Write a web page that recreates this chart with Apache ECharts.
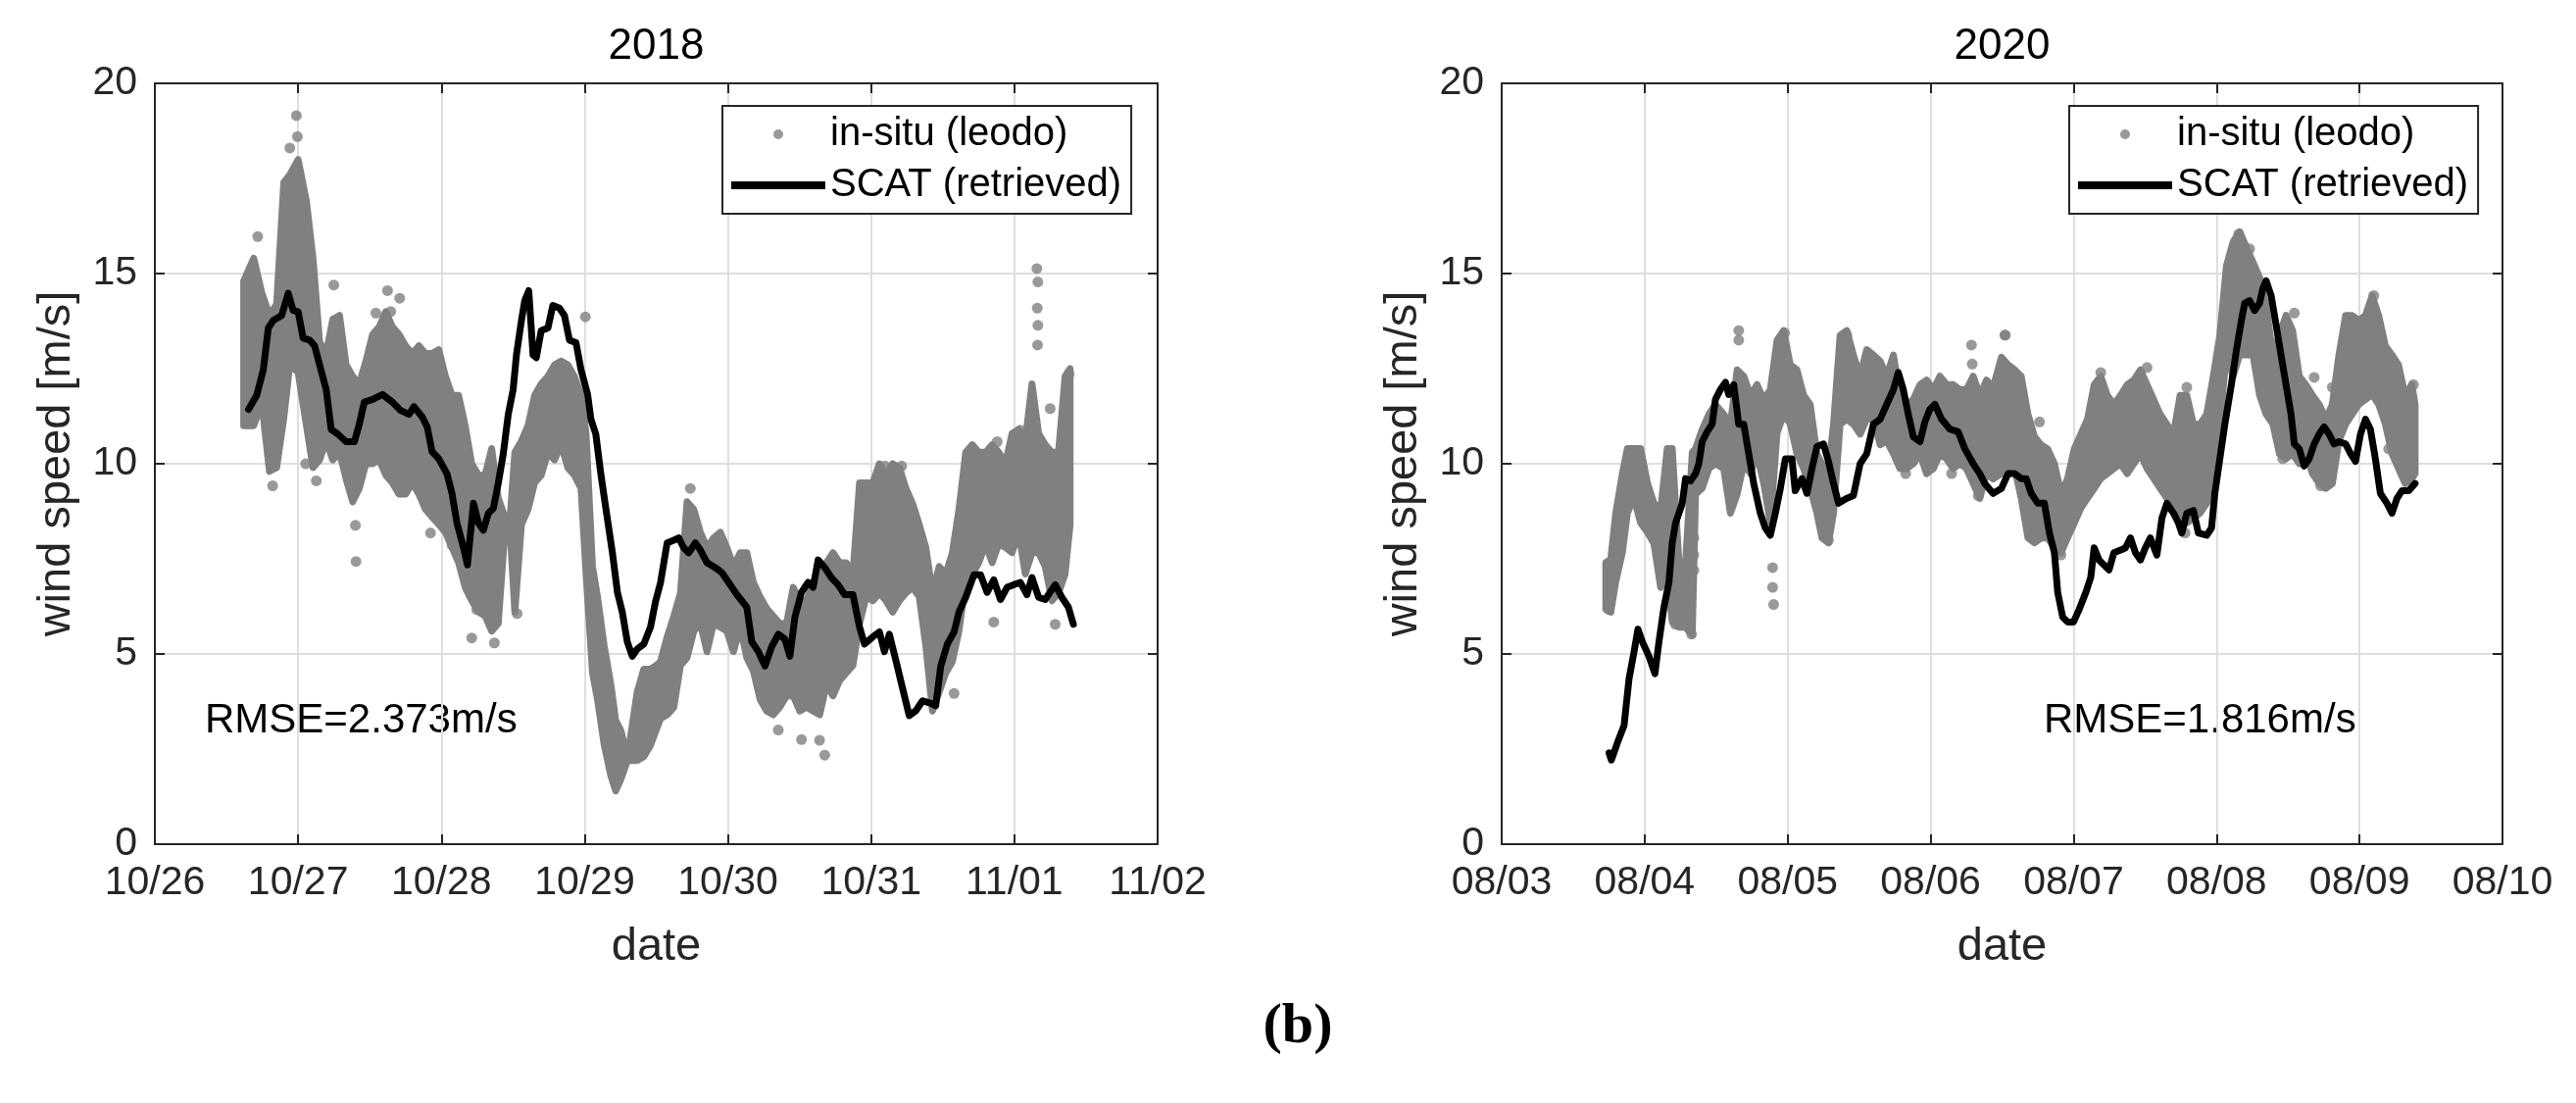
<!DOCTYPE html>
<html>
<head>
<meta charset="utf-8">
<title>wind speed 2018 / 2020</title>
<script src="https://cdn.jsdelivr.net/npm/echarts@6/dist/echarts.min.js"></script>
<style>
  html, body { margin: 0; padding: 0; background: #fff; }
  #chart { width: 2628px; height: 1125px; }
</style>
</head>
<body>
<div id="chart"></div>
<script>
// x values are days counted from the first tick label of each panel
const xLabels2018 = ['10/26', '10/27', '10/28', '10/29', '10/30', '10/31', '11/01', '11/02'];
const xLabels2020 = ['08/03', '08/04', '08/05', '08/06', '08/07', '08/08', '08/09', '08/10'];

// in-situ (leodo): dense cloud read as [day, low, high], plus stray points
const insitu2018Band = [
  [0.62, 11.0, 14.8], [0.69, 11.0, 15.4], [0.746, 11.6, 14.5], [0.80, 9.8, 13.9], [0.85, 9.9, 14.2],
  [0.90, 11.2, 17.4], [0.942, 12.6, 17.6], [1.0, 12.4, 18.0], [1.058, 11.0, 16.9], [1.104, 9.9, 15.4],
  [1.15, 10.1, 13.2], [1.196, 10.6, 12.9], [1.242, 10.1, 13.8], [1.289, 10.3, 13.9], [1.335, 9.6, 12.6],
  [1.381, 9.0, 12.3], [1.427, 9.35, 12.1], [1.473, 10.0, 12.7], [1.52, 10.0, 13.4], [1.566, 10.1, 13.6],
  [1.612, 9.7, 14.0], [1.658, 9.5, 13.6], [1.704, 9.2, 13.4], [1.751, 9.2, 13.1], [1.797, 9.5, 12.9],
  [1.843, 9.2, 13.1], [1.889, 8.8, 12.9], [1.935, 8.6, 12.9], [1.982, 8.4, 13.0], [2.028, 8.2, 12.3],
  [2.074, 7.8, 11.8], [2.12, 7.4, 11.8], [2.166, 6.75, 11.0], [2.212, 6.4, 10.0], [2.259, 6.1, 9.7],
  [2.305, 6.0, 9.7], [2.351, 5.6, 10.4], [2.397, 5.8, 9.1], [2.443, 8.2, 8.6], [2.48, 8.2, 8.6],
  [2.513, 6.1, 10.3], [2.559, 8.4, 10.6], [2.605, 8.8, 11.0], [2.651, 9.5, 11.8], [2.697, 9.7, 12.1],
  [2.744, 10.3, 12.3], [2.79, 10.1, 12.6], [2.836, 10.5, 12.7], [2.882, 9.9, 12.6], [2.928, 9.7, 12.3],
  [2.975, 9.35, 11.8], [3.01, 7.1, 10.8], [3.055, 4.5, 7.3], [3.09, 3.8, 6.5], [3.137, 2.6, 5.2],
  [3.183, 1.8, 4.2], [3.217, 1.4, 3.25], [3.252, 1.7, 3.0], [3.30, 2.2, 2.3], [3.367, 2.2, 4.0],
  [3.413, 2.3, 4.6], [3.46, 2.6, 4.6], [3.50, 3.0, 4.7], [3.53, 3.3, 4.8], [3.576, 3.4, 5.45],
  [3.623, 3.6, 6.0], [3.669, 4.7, 6.6], [3.715, 4.9, 9.0], [3.762, 5.6, 8.8], [3.808, 5.8, 8.2],
  [3.854, 5.06, 7.8], [3.9, 5.8, 8.05], [3.947, 5.7, 8.2], [3.993, 5.6, 7.8], [4.039, 5.06, 7.3],
  [4.086, 5.7, 7.66], [4.132, 4.9, 7.66], [4.178, 4.55, 6.88], [4.225, 3.8, 6.5], [4.271, 3.5, 6.2],
  [4.317, 3.4, 6.0], [4.363, 3.6, 5.8], [4.41, 3.9, 5.8], [4.456, 3.9, 6.75], [4.502, 3.5, 6.4],
  [4.549, 3.6, 6.4], [4.595, 3.5, 6.9], [4.641, 3.4, 7.1], [4.688, 4.2, 7.4], [4.734, 3.9, 7.66],
  [4.78, 4.3, 7.4], [4.826, 4.5, 7.4], [4.873, 4.7, 7.1], [4.919, 5.8, 9.5], [4.965, 6.5, 9.5],
  [5.012, 6.4, 9.5], [5.058, 6.6, 10.0], [5.104, 6.4, 9.7], [5.15, 6.1, 10.0], [5.197, 6.4, 9.9],
  [5.243, 6.6, 9.35], [5.289, 6.75, 8.96], [5.336, 6.5, 8.4], [5.382, 5.2, 7.8], [5.428, 3.5, 6.6],
  [5.475, 4.0, 7.3], [5.521, 4.5, 7.1], [5.567, 4.8, 7.66], [5.613, 5.6, 8.8], [5.66, 6.9, 10.3],
  [5.706, 7.1, 10.5], [5.752, 7.4, 10.3], [5.799, 7.9, 10.3], [5.845, 7.4, 10.5], [5.891, 7.9, 10.3],
  [5.937, 7.8, 10.0], [5.984, 7.66, 10.8], [6.03, 8.2, 10.9], [6.076, 7.1, 10.6], [6.123, 7.66, 12.1],
  [6.169, 7.66, 10.8], [6.215, 7.3, 10.5], [6.262, 6.4, 10.3], [6.308, 6.6, 10.3], [6.354, 7.1, 12.3],
  [6.389, 8.4, 12.5]
];
const insitu2018Extra = [
  [0.988, 19.15], [0.995, 18.6], [0.942, 18.3], [0.718, 15.97], [1.249, 14.7], [1.624, 14.55],
  [1.709, 14.35], [1.543, 13.96], [1.647, 14.0], [3.005, 13.86], [0.822, 9.42], [1.404, 7.43],
  [1.4, 8.38], [2.212, 5.42], [2.37, 5.29], [2.529, 6.06], [1.053, 10.0], [1.127, 9.55],
  [1.924, 8.18], [2.074, 7.86], [2.247, 6.17], [6.157, 15.13], [6.164, 14.78], [6.16, 14.09],
  [6.164, 13.64], [6.162, 13.12], [6.382, 12.36], [6.25, 11.45], [6.04, 10.88], [5.88, 10.58],
  [4.352, 3.0], [4.514, 2.75], [4.64, 2.73], [4.676, 2.34], [5.579, 3.96], [6.285, 5.78],
  [5.856, 5.84], [5.097, 9.94], [5.213, 9.94], [3.738, 9.35]
];

const insitu2020Band = [
  [0.728, 6.17, 7.4], [0.763, 6.1, 7.5], [0.798, 6.9, 8.7], [0.844, 7.66, 9.74], [0.879, 8.7, 10.4],
  [0.926, 9.1, 10.4], [0.972, 8.44, 10.4], [1.019, 8.2, 9.5], [1.065, 7.9, 8.96], [1.112, 6.75, 8.8],
  [1.158, 7.1, 10.4], [1.193, 5.84, 10.4], [1.24, 5.7, 7.4], [1.286, 5.7, 7.4], [1.333, 5.5, 10.3],
  [1.356, 9.2, 10.4], [1.402, 9.35, 10.9], [1.449, 9.87, 11.3], [1.495, 10.0, 11.56], [1.553, 9.87, 11.3],
  [1.6, 8.7, 11.04], [1.647, 9.2, 12.47], [1.693, 10.0, 12.3], [1.74, 9.74, 11.8], [1.786, 10.26, 12.08],
  [1.833, 9.48, 11.69], [1.879, 8.44, 11.95], [1.926, 10.8, 13.25], [1.972, 11.3, 13.5], [2.019, 11.04, 12.6],
  [2.065, 10.26, 12.47], [2.112, 9.87, 11.8], [2.158, 9.35, 11.56], [2.205, 8.7, 10.26], [2.24, 8.05, 10.0],
  [2.286, 7.92, 9.87], [2.321, 8.7, 11.04], [2.367, 11.04, 13.38], [2.414, 11.17, 13.5], [2.46, 11.04, 12.86],
  [2.507, 10.78, 12.3], [2.553, 11.17, 13.0], [2.6, 11.17, 12.86], [2.647, 10.5, 12.7], [2.693, 10.6, 12.3],
  [2.74, 10.26, 12.86], [2.786, 9.87, 11.8], [2.833, 9.87, 11.56], [2.879, 10.0, 11.69], [2.926, 10.26, 12.08],
  [2.972, 9.74, 12.2], [3.019, 9.87, 11.95], [3.065, 10.26, 12.3], [3.112, 10.13, 12.08], [3.158, 9.87, 12.08],
  [3.205, 10.0, 11.95], [3.251, 9.87, 11.95], [3.298, 9.48, 12.3], [3.344, 9.09, 11.8], [3.391, 9.74, 12.2],
  [3.437, 9.6, 12.0], [3.495, 9.74, 12.8], [3.542, 9.74, 12.6], [3.588, 9.87, 12.47], [3.634, 9.09, 12.3],
  [3.681, 8.05, 11.3], [3.727, 7.92, 10.71], [3.773, 8.05, 10.5], [3.819, 8.05, 10.39], [3.866, 7.79, 10.0],
  [3.912, 7.66, 9.22], [3.958, 8.05, 9.61], [4.005, 8.44, 10.39], [4.051, 8.83, 10.78], [4.097, 9.09, 11.17],
  [4.144, 9.35, 12.08], [4.19, 9.61, 12.3], [4.236, 9.74, 11.8], [4.282, 9.87, 11.56], [4.329, 10.0, 11.8],
  [4.375, 9.74, 12.08], [4.421, 10.0, 12.2], [4.468, 10.26, 12.47], [4.514, 9.87, 12.08], [4.56, 9.61, 11.69],
  [4.606, 9.35, 11.3], [4.653, 9.09, 11.04], [4.699, 8.96, 10.78], [4.745, 8.44, 11.8], [4.792, 8.44, 11.8],
  [4.838, 8.57, 11.04], [4.884, 8.7, 11.04], [4.931, 8.96, 11.3], [4.977, 9.74, 12.3], [5.023, 11.04, 13.38],
  [5.069, 12.86, 15.2], [5.116, 12.3, 15.84], [5.162, 12.86, 16.1], [5.208, 12.86, 15.7], [5.255, 12.86, 15.3],
  [5.301, 11.8, 14.9], [5.347, 11.3, 14.16], [5.394, 11.04, 12.86], [5.44, 10.26, 13.38], [5.486, 10.13, 13.9],
  [5.532, 10.26, 13.5], [5.579, 10.0, 12.3], [5.625, 10.26, 12.08], [5.671, 9.74, 11.8], [5.718, 9.48, 11.56],
  [5.764, 9.35, 11.17], [5.81, 9.48, 11.56], [5.856, 10.6, 12.86], [5.903, 11.04, 13.9], [5.949, 11.3, 13.9],
  [5.995, 11.56, 13.77], [6.042, 11.69, 13.9], [6.088, 11.82, 14.42], [6.134, 11.56, 13.9], [6.181, 11.04, 13.1],
  [6.227, 10.26, 12.86], [6.273, 9.87, 12.6], [6.319, 9.48, 11.8], [6.366, 9.61, 12.08], [6.389, 9.74, 11.56]
];
const insitu2020Extra = [
  [1.658, 13.5], [1.658, 13.25], [1.979, 13.44], [2.414, 13.38], [3.286, 13.12], [3.291, 12.62],
  [3.523, 13.38], [1.344, 8.05], [1.344, 7.6], [1.344, 7.2], [1.895, 7.27], [1.895, 6.75],
  [1.902, 6.3], [0.751, 6.17], [1.216, 5.78], [1.328, 5.52], [3.333, 9.16], [2.286, 7.99],
  [2.826, 9.74], [3.147, 9.74], [5.155, 16.04], [5.231, 15.65], [6.1, 14.42], [5.544, 13.96],
  [5.683, 12.27], [5.81, 12.01], [6.377, 12.08], [6.204, 10.39], [5.463, 10.13], [5.729, 9.42],
  [3.762, 11.1], [3.519, 13.38], [3.912, 7.6], [4.792, 12.01], [4.78, 8.18], [4.19, 12.4], [4.514, 12.53]
];

// SCAT (retrieved): [day, speed]
const scat2018 = [
  [0.654, 11.43], [0.711, 11.8], [0.757, 12.47], [0.792, 13.57], [0.827, 13.77], [0.885, 13.9],
  [0.931, 14.48], [0.965, 14.03], [1.0, 14.0], [1.035, 13.3], [1.081, 13.25], [1.115, 13.1],
  [1.150, 12.6], [1.196, 11.95], [1.231, 10.9], [1.277, 10.78], [1.335, 10.58], [1.393, 10.58],
  [1.427, 11.04], [1.462, 11.62], [1.520, 11.69], [1.589, 11.82], [1.658, 11.62], [1.716, 11.4],
  [1.774, 11.3], [1.808, 11.5], [1.866, 11.23], [1.901, 10.97], [1.935, 10.32], [1.982, 10.13],
  [2.039, 9.74], [2.074, 9.22], [2.109, 8.44], [2.155, 7.79], [2.182, 7.34], [2.2, 8.05],
  [2.224, 8.96], [2.259, 8.44], [2.293, 8.25], [2.328, 8.7], [2.363, 8.83], [2.397, 9.48],
  [2.432, 10.26], [2.467, 11.3], [2.501, 11.95], [2.524, 12.86], [2.559, 13.77], [2.582, 14.29],
  [2.61, 14.55], [2.640, 12.86], [2.663, 12.79], [2.697, 13.5], [2.744, 13.57], [2.778, 14.16],
  [2.824, 14.09], [2.859, 13.9], [2.894, 13.25], [2.940, 13.18], [2.975, 12.47], [3.021, 11.82],
  [3.044, 11.17], [3.078, 10.78], [3.113, 9.74], [3.148, 8.83], [3.194, 7.66], [3.229, 6.62],
  [3.263, 6.1], [3.298, 5.32], [3.333, 4.94], [3.367, 5.13], [3.413, 5.26], [3.46, 5.71],
  [3.494, 6.36], [3.53, 6.88], [3.576, 7.92], [3.623, 7.99], [3.657, 8.05], [3.692, 7.79],
  [3.727, 7.66], [3.773, 7.92], [3.808, 7.73], [3.854, 7.4], [3.912, 7.27], [3.958, 7.14],
  [4.005, 6.88], [4.063, 6.56], [4.132, 6.23], [4.167, 5.32], [4.213, 5.06], [4.259, 4.68],
  [4.306, 5.19], [4.352, 5.52], [4.398, 5.39], [4.433, 4.94], [4.468, 5.97], [4.514, 6.62],
  [4.560, 6.88], [4.595, 6.75], [4.630, 7.47], [4.676, 7.27], [4.722, 7.01], [4.769, 6.82],
  [4.815, 6.56], [4.873, 6.56], [4.919, 5.71], [4.954, 5.26], [5.012, 5.45], [5.058, 5.58],
  [5.093, 5.06], [5.127, 5.52], [5.174, 4.81], [5.220, 4.09], [5.266, 3.38], [5.313, 3.51],
  [5.359, 3.77], [5.417, 3.7], [5.451, 3.64], [5.486, 4.68], [5.532, 5.26], [5.579, 5.58],
  [5.613, 6.1], [5.660, 6.49], [5.718, 7.08], [5.764, 7.08], [5.810, 6.62], [5.856, 6.95],
  [5.903, 6.43], [5.949, 6.75], [5.995, 6.82], [6.042, 6.88], [6.088, 6.56], [6.123, 7.01],
  [6.169, 6.49], [6.215, 6.43], [6.285, 6.82], [6.331, 6.49], [6.377, 6.23], [6.412, 5.78]
];
const scat2020 = [
  [0.751, 2.40], [0.767, 2.21], [0.809, 2.66], [0.856, 3.12], [0.891, 4.35], [0.926, 5.06],
  [0.953, 5.65], [0.984, 5.32], [1.030, 4.94], [1.072, 4.48], [1.1, 5.32], [1.135, 6.23],
  [1.170, 6.88], [1.193, 7.92], [1.216, 8.44], [1.263, 8.96], [1.286, 9.61], [1.321, 9.55],
  [1.356, 9.74], [1.379, 10.0], [1.402, 10.58], [1.437, 10.84], [1.472, 11.04], [1.495, 11.69],
  [1.530, 11.95], [1.565, 12.14], [1.588, 11.82], [1.623, 12.08], [1.658, 11.04], [1.693, 11.04],
  [1.728, 10.26], [1.763, 9.48], [1.809, 8.7], [1.844, 8.31], [1.879, 8.12], [1.914, 8.7],
  [1.949, 9.35], [1.984, 10.13], [2.030, 10.13], [2.053, 9.29], [2.1, 9.61], [2.135, 9.22],
  [2.170, 9.87], [2.205, 10.45], [2.251, 10.52], [2.286, 10.06], [2.321, 9.48], [2.356, 8.96],
  [2.414, 9.09], [2.460, 9.16], [2.507, 10.0], [2.553, 10.26], [2.6, 11.04], [2.647, 11.17],
  [2.693, 11.56], [2.740, 11.95], [2.774, 12.4], [2.809, 11.95], [2.844, 11.3], [2.879, 10.71],
  [2.926, 10.58], [2.960, 11.1], [2.995, 11.43], [3.030, 11.56], [3.077, 11.17], [3.135, 10.91],
  [3.193, 10.84], [3.240, 10.39], [3.298, 10.0], [3.344, 9.74], [3.379, 9.48], [3.437, 9.22],
  [3.495, 9.35], [3.542, 9.74], [3.588, 9.74], [3.634, 9.61], [3.669, 9.61], [3.704, 9.22],
  [3.75, 8.96], [3.796, 8.96], [3.831, 8.18], [3.866, 7.66], [3.889, 6.62], [3.924, 5.97],
  [3.958, 5.84], [4.0, 5.84], [4.039, 6.17], [4.086, 6.62], [4.12, 7.01], [4.144, 7.79],
  [4.178, 7.47], [4.213, 7.34], [4.248, 7.21], [4.282, 7.66], [4.329, 7.73], [4.363, 7.79],
  [4.398, 8.05], [4.433, 7.66], [4.468, 7.47], [4.502, 7.79], [4.537, 8.05], [4.583, 7.6],
  [4.618, 8.57], [4.653, 8.96], [4.699, 8.7], [4.734, 8.44], [4.757, 8.18], [4.792, 8.7],
  [4.838, 8.77], [4.873, 8.18], [4.931, 8.12], [4.965, 8.31], [4.988, 9.22], [5.023, 10.13],
  [5.058, 11.04], [5.104, 12.08], [5.139, 12.99], [5.174, 13.77], [5.197, 14.22], [5.231, 14.29],
  [5.266, 14.03], [5.301, 14.22], [5.324, 14.61], [5.347, 14.81], [5.382, 14.42], [5.417, 13.64],
  [5.451, 12.86], [5.486, 12.08], [5.521, 11.3], [5.544, 10.52], [5.579, 10.39], [5.613, 9.94],
  [5.648, 10.13], [5.683, 10.52], [5.718, 10.78], [5.752, 10.97], [5.787, 10.78], [5.822, 10.52],
  [5.856, 10.58], [5.903, 10.52], [5.938, 10.26], [5.972, 10.06], [6.007, 10.78], [6.042, 11.17],
  [6.076, 10.91], [6.111, 10.13], [6.146, 9.22], [6.192, 8.96], [6.227, 8.7], [6.262, 9.09],
  [6.296, 9.29], [6.343, 9.29], [6.389, 9.48]
];

const panelTitles = ['2018', '2020'];
const rmseTexts = ['RMSE=2.373m/s', 'RMSE=1.816m/s'];

const FONT = '"Liberation Sans", Arial, Helvetica, sans-serif';
const AXIS = '#262626';
const GRIDLINE = '#dedede';
const DOT = '#808080';
const IN_SITU = 'in-situ (leodo)';
const SCAT = 'SCAT (retrieved)';

const panels = [
  { labels: xLabels2018, band: insitu2018Band, extra: insitu2018Extra, line: scat2018, left: 158, width: 1023 },
  { labels: xLabels2020, band: insitu2020Band, extra: insitu2020Extra, line: scat2020, left: 1532, width: 1021 }
];

const chart = echarts.init(document.getElementById('chart'));

const grid = [];
const xAxis = [];
const yAxis = [];
const series = [];
const legend = [];
const graphic = [];

panels.forEach((p, i) => {
	grid.push({ left: p.left, top: 85, width: p.width, height: 776 });

	const tick = { show: true, inside: true, length: 10, lineStyle: { color: AXIS, width: 2 } };
	const line = { show: true, onZero: false, lineStyle: { color: AXIS, width: 2 } };

	xAxis.push({
		gridIndex: i, type: 'value', position: 'bottom', min: 0, max: 7, interval: 1,
		axisLine: line, axisTick: tick,
		axisLabel: {
			formatter: v => p.labels[v], margin: 19,
			fontSize: 41, fontFamily: FONT, color: AXIS
		},
		splitLine: { show: true, lineStyle: { color: GRIDLINE, width: 2 } },
		name: 'date', nameLocation: 'middle', nameGap: 82,
		nameTextStyle: { fontSize: 47, fontFamily: FONT, color: AXIS }
	});
	xAxis.push({
		gridIndex: i, type: 'value', position: 'top', min: 0, max: 7, interval: 1,
		axisLine: line, axisTick: tick, axisLabel: { show: false }, splitLine: { show: false }
	});
	yAxis.push({
		gridIndex: i, type: 'value', position: 'left', min: 0, max: 20, interval: 5,
		axisLine: line, axisTick: tick,
		axisLabel: { margin: 18, fontSize: 41, fontFamily: FONT, color: AXIS },
		splitLine: { show: true, lineStyle: { color: GRIDLINE, width: 2 } },
		name: 'wind speed [m/s]', nameLocation: 'middle', nameGap: 76,
		nameTextStyle: { fontSize: 47, fontFamily: FONT, color: AXIS }
	});
	yAxis.push({
		gridIndex: i, type: 'value', position: 'right', min: 0, max: 20, interval: 5,
		axisLine: line, axisTick: tick, axisLabel: { show: false }, splitLine: { show: false }
	});

	// stray in-situ points
	series.push({
		name: IN_SITU, type: 'scatter', xAxisIndex: i * 2, yAxisIndex: i * 2,
		data: p.extra, symbol: 'circle', symbolSize: 11,
		itemStyle: { color: DOT }, z: 2, silent: true
	});
	// dense in-situ cloud, low..high envelope on the axis scales
	series.push({
		name: IN_SITU, type: 'custom', xAxisIndex: i * 2, yAxisIndex: i * 2,
		data: [[p.band[0][0], p.band[0][1]]],
		itemStyle: { color: DOT }, z: 2, silent: true,
		renderItem: function(params, api) {
			const upper = p.band.map(b => api.coord([b[0], b[2]]));
			const lower = p.band.map(b => api.coord([b[0], b[1]])).reverse();
			return {
				type: 'polygon',
				shape: { points: upper.concat(lower) },
				style: { fill: DOT, stroke: DOT, lineWidth: 7, lineJoin: 'round' }
			};
		}
	});
	series.push({
		name: SCAT, type: 'line', xAxisIndex: i * 2, yAxisIndex: i * 2,
		data: p.line, symbol: 'none', smooth: false,
		lineStyle: { color: '#000', width: 7, join: 'round', cap: 'round' },
		itemStyle: { color: '#000' }, z: 3, silent: true
	});

	legend.push({
		left: [737, 2111][i], top: 108, orient: 'vertical',
		data: [
			{ name: IN_SITU, icon: 'circle' },
			{ name: SCAT, icon: 'path://M0,0H96V8H0Z' }
		],
		itemWidth: 96, itemHeight: 10, itemGap: 12,
		padding: [9, 10, 9, 9],
		borderColor: AXIS, borderWidth: 2, backgroundColor: '#fff',
		selectedMode: false,
		textStyle: { fontSize: 40, fontFamily: FONT, color: '#000' }
	});

	graphic.push({
		type: 'text', x: p.left + p.width / 2, y: 48,
		style: { text: panelTitles[i], font: '44px ' + FONT, fill: '#000',
			align: 'center', textAlign: 'center', verticalAlign: 'middle', textVerticalAlign: 'middle' }
	});
	graphic.push({
		type: 'text', x: [209, 2085][i], y: 735,
		style: { text: rmseTexts[i], font: '42px ' + FONT, fill: '#000',
			align: 'left', textAlign: 'left', verticalAlign: 'middle', textVerticalAlign: 'middle' }
	});
});

graphic.push({
	type: 'text', x: 1324, y: 1048,
	style: { text: '(b)', font: 'bold 58px "Liberation Serif", "Times New Roman", serif', fill: '#000',
		align: 'center', textAlign: 'center', verticalAlign: 'middle', textVerticalAlign: 'middle' }
});

chart.setOption({
	animation: false,
	backgroundColor: '#fff',
	grid: grid,
	xAxis: xAxis,
	yAxis: yAxis,
	legend: legend,
	series: series,
	graphic: graphic
});
</script>
</body>
</html>
